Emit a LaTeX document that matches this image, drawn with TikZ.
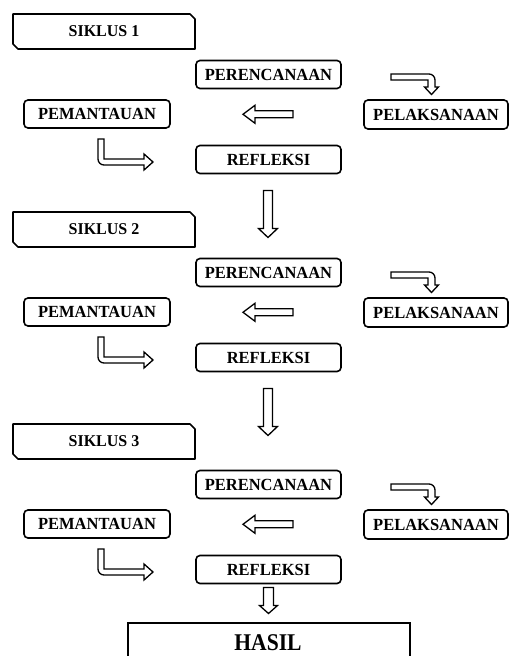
\documentclass[tikz,border=0pt]{standalone}
\usepackage{fontspec}
\setmainfont{Liberation Serif}
\newfontfamily\boxfont{Liberation Serif}[FakeStretch=0.97]
\newfontfamily\hasilfont{Liberation Serif}[FakeStretch=0.9]
\usetikzlibrary{calc}
\tikzset{
  stage/.style={draw, line width=1.6pt, rounded corners=4pt, minimum width=145pt,
    minimum height=28pt, inner sep=0pt, outer sep=0pt,
    font=\boxfont\bfseries\fontsize{17}{17}\selectfont},
  cyclelabel/.style={minimum width=182pt, minimum height=35pt, inner sep=0pt,
    outer sep=0pt, font=\boxfont\bfseries\fontsize{16.5}{16.5}\selectfont},
  tagline/.style={line width=1.6pt, line join=round},
  blockarrow/.style={draw, line width=1.3pt, fill=white, line join=miter},
  resultbox/.style={line width=1.8pt}
}
\begin{document}
\begin{tikzpicture}[x=1pt,y=-1pt]
\useasboundingbox (0,0) rectangle (509,656);
\foreach \i/\dy in {1/0,2/198,3/410} {
  \begin{scope}[yshift=-\dy pt]
    \node[cyclelabel] (sik\i) at (104,31.5) {SIKLUS \i};
    \draw[tagline] (sik\i.north west) -- ([xshift=-5pt]sik\i.north east)
      -- ([yshift=-5pt]sik\i.north east) -- (sik\i.south east)
      -- ([xshift=5pt]sik\i.south west) -- ([yshift=5pt]sik\i.south west) -- cycle;
    \node[stage] (per\i) at (268.5,74.5) {PERENCANAAN};
    \node[stage, minimum width=144pt, minimum height=29pt] (pel\i) at (436,114.5) {PELAKSANAAN};
    \node[stage, minimum width=146pt] (pem\i) at (97,114) {PEMANTAUAN};
    \node[stage] (ref\i) at (268.5,159.5) {REFLEKSI};
    % perencanaan -> pelaksanaan (bent arrow)
    \draw[blockarrow] (391,74) -- (429,74) arc[start angle=90, end angle=0, radius=6pt]
      -- (435,87) -- (438.5,87) -- (431.5,94.5) -- (424.5,87) -- (428,87)
      -- (428,80) -- (391,80) -- cycle;
    % pelaksanaan -> pemantauan (left arrow)
    \coordinate (la\i) at ($(pem\i.east)!0.5!(pel\i.west)$);
    \draw[blockarrow, shift={(la\i)}] (-24,0) -- (-12,-9) -- (-12,-3.5) -- (26,-3.5)
      -- (26,3.5) -- (-12,3.5) -- (-12,9) -- cycle;
    % pemantauan -> refleksi (bent arrow)
    \draw[blockarrow] (98,139) -- (104,139) -- (104,159) -- (144,159) -- (144,154)
      -- (153,162) -- (144,170) -- (144,165) -- (104,165)
      arc[start angle=270, end angle=180, radius=6pt] -- cycle;
    % refleksi -> next cycle
    \ifnum\i<3
      \coordinate (da\i) at ([yshift=-17pt]ref\i.south);
      \draw[blockarrow, shift={(da\i)}] (-5,0) -- (4,0) -- (4,38) -- (9,38) -- (-0.5,47)
        -- (-10,38) -- (-5,38) -- cycle;
    \fi
  \end{scope}
}
% result
\node[font=\hasilfont\bfseries\fontsize{24}{24}\selectfont, anchor=base, inner sep=0pt] (hasil) at (268,650) {HASIL};
\draw[resultbox] (128,672) -- (128,623) -- (410,623) -- (410,672);
\coordinate (fa) at ([yshift=-4pt]ref3.south);
\draw[blockarrow, shift={(fa)}] (-5,0) -- (5,0) -- (5,18) -- (9,18) -- (0,26) -- (-9,18)
  -- (-5,18) -- cycle;
\end{tikzpicture}
\end{document}
